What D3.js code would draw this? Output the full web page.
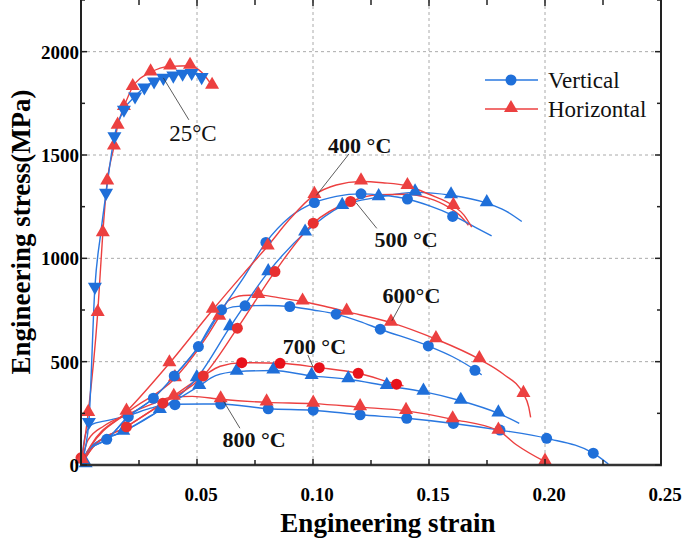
<!DOCTYPE html>
<html><head><meta charset="utf-8">
<script src="https://cdn.jsdelivr.net/npm/d3@7"></script>
<style>body{margin:0;background:#fff}svg{display:block}</style>
</head><body><svg id="c" width="685" height="539"></svg>
<script>
// ---------- data: [strain, stress(MPa)] ----------
const xTicks = [0.05, 0.10, 0.15, 0.20, 0.25];
const xTickLabels = ["0.05", "0.10", "0.15", "0.20", "0.25"];
const yTicks = [0, 500, 1000, 1500, 2000];
const yTickLabels = ["0", "500", "1000", "1500", "2000"];

// 25 °C
const v25Line = [[0,0],[0.002,90],[0.0034,208],[0.006,862],[0.0085,1120],[0.0108,1317],[0.0144,1590],[0.0185,1719],[0.0233,1783],[0.0273,1827],[0.0315,1856],[0.0355,1873],[0.0398,1884],[0.0438,1893],[0.0477,1897],[0.052,1877]];
const v25Marks = [[0.0034,208],[0.006,862],[0.0108,1317],[0.0144,1590],[0.0185,1719],[0.0233,1783],[0.0273,1827],[0.0315,1856],[0.0355,1873],[0.0398,1884],[0.0438,1893],[0.0477,1897],[0.052,1877]];
const h25Line = [[0,0],[0.0031,252],[0.0072,736],[0.0094,1122],[0.0113,1372],[0.0142,1541],[0.0158,1642],[0.0185,1732],[0.0223,1829],[0.03,1900],[0.0384,1929],[0.047,1932],[0.052,1900],[0.0565,1835]];
const h25Marks = [[0.0004,24],[0.0031,252],[0.0072,736],[0.0094,1122],[0.0113,1372],[0.0142,1541],[0.0158,1642],[0.0185,1732],[0.0223,1829],[0.03,1900],[0.0384,1929],[0.047,1932],[0.0565,1835]];

// 400 °C
const v400Line = [[0,0],[0.003,70],[0.0111,124],[0.0204,234],[0.0312,323],[0.0402,431],[0.0506,573],[0.0606,751],[0.07,905],[0.0797,1077],[0.09,1200],[0.1006,1270],[0.11,1300],[0.1207,1312],[0.13,1305],[0.1407,1287],[0.15,1255],[0.1605,1207],[0.17,1150],[0.177,1109]];
const v400Marks = [[0.0111,124],[0.0204,234],[0.0312,323],[0.0402,431],[0.0506,573],[0.0606,751],[0.0797,1077],[0.1006,1270],[0.1207,1312],[0.1407,1287],[0.1602,1203]];
const h400Line = [[0,0],[0.004,90],[0.0196,258],[0.0381,492],[0.0568,751],[0.07,925],[0.0805,1060],[0.09,1190],[0.1006,1307],[0.11,1355],[0.1207,1372],[0.13,1366],[0.1407,1350],[0.15,1310],[0.1605,1254],[0.165,1210],[0.1684,1151]];
const h400Marks = [[0.0196,258],[0.0381,492],[0.0568,751],[0.0805,1057],[0.1006,1307],[0.1207,1372],[0.1407,1350],[0.1605,1254]];

// 500 °C
const v500Line = [[0,0],[0.005,95],[0.0182,161],[0.034,266],[0.0499,420],[0.0642,667],[0.0807,933],[0.0966,1125],[0.1126,1254],[0.1283,1296],[0.144,1319],[0.1595,1305],[0.1749,1267],[0.183,1230],[0.19,1178]];
const v500Marks = [[0.002,4],[0.0182,161],[0.034,266],[0.0499,420],[0.0642,667],[0.0807,933],[0.0966,1125],[0.1126,1254],[0.1283,1296],[0.144,1319],[0.1595,1305],[0.1749,1267]];
const h500Line = [[0,0],[0.005,85],[0.0196,185],[0.0353,299],[0.0527,431],[0.0674,662],[0.0836,936],[0.1001,1170],[0.1162,1275],[0.128,1308],[0.14,1310],[0.15,1290],[0.158,1250],[0.164,1200],[0.167,1160]];
const h500Marks = [[0,35],[0.0196,185],[0.0353,299],[0.0527,431],[0.0674,662],[0.0836,936],[0.1001,1170],[0.1162,1275]];

// 600 °C
const v600Line = [[0,0],[0.003,70],[0.0111,124],[0.0204,234],[0.0312,323],[0.0402,431],[0.05,562],[0.0585,718],[0.0655,765],[0.0707,770],[0.08,772],[0.09,767],[0.1,750],[0.11,730],[0.12,695],[0.129,657],[0.1497,576],[0.16,525],[0.1698,460],[0.1727,436]];
const v600Marks = [[0.0707,770],[0.09,767],[0.11,730],[0.129,657],[0.1497,576],[0.1698,458]];
const h600Line = [[0,0],[0.004,85],[0.0196,250],[0.0405,420],[0.0596,718],[0.0635,795],[0.07,820],[0.0764,823],[0.085,810],[0.0955,791],[0.105,768],[0.1145,742],[0.1336,689],[0.153,609],[0.1717,512],[0.182,440],[0.1907,344],[0.193,280],[0.1938,231]];
const h600Marks = [[0.0005,22],[0.0405,420],[0.0596,718],[0.0764,823],[0.0955,791],[0.1145,742],[0.1336,689],[0.153,609],[0.1717,512],[0.1907,344]];

// 700 °C
const h700Line = [[0,0],[0.005,85],[0.0196,185],[0.0353,299],[0.0527,431],[0.06,478],[0.0693,495],[0.0858,492],[0.1027,471],[0.1195,444],[0.136,391],[0.139,383]];
const h700Marks = [[0.0693,495],[0.0858,492],[0.1027,471],[0.1195,444],[0.136,391]];
const v700Line = [[0,0],[0.005,95],[0.0182,161],[0.034,266],[0.051,383],[0.058,432],[0.0671,452],[0.0829,457],[0.0994,431],[0.1152,415],[0.1318,383],[0.1476,355],[0.1637,311],[0.1799,250],[0.1889,202]];
const v700Marks = [[0.051,383],[0.0671,452],[0.0829,457],[0.0994,431],[0.1152,415],[0.1318,383],[0.1476,355],[0.1637,311],[0.1799,250]];

// 800 °C
const h800Line = [[0,0],[0.003,120],[0.01,190],[0.02,245],[0.03,292],[0.04,330],[0.048,332],[0.0602,318],[0.08,303],[0.1001,297],[0.1203,280],[0.1401,262],[0.1602,221],[0.1799,166],[0.1878,97],[0.2,16]];
const h800Marks = [[0.04,330],[0.0602,318],[0.08,303],[0.1001,297],[0.1203,280],[0.1401,262],[0.1602,221],[0.1799,166],[0.2,16]];
const v800Line = [[0,0],[0.002,150],[0.005,198],[0.01,212],[0.02,238],[0.03,275],[0.036,292],[0.0405,294],[0.0602,295],[0.0807,272],[0.1001,265],[0.1203,243],[0.1404,226],[0.1605,201],[0.1806,169],[0.2007,129],[0.2208,57],[0.2273,5]];
const v800Marks = [[0.0405,292],[0.0602,295],[0.0807,272],[0.1001,265],[0.1203,243],[0.1404,226],[0.1605,201],[0.1806,169],[0.2007,129],[0.2208,57]];

const legendNames = ["Vertical", "Horizontal"];
const tempLabels = [
  {text:"25°C", x:0.038, y:1570, lx1:0.0355, ly1:1873, bold:false},
  {text:"400 °C", x:0.1065, y:1510, lx1:0.1015, ly1:1300, bold:true},
  {text:"500 °C", x:0.1265, y:1055, lx1:0.1185, ly1:1270, bold:true},
  {text:"600°C", x:0.130, y:785, lx1:0.134, ly1:690, bold:true},
  {text:"700 °C", x:0.087, y:535, lx1:0.1005, ly1:475, bold:true},
  {text:"800 °C", x:0.061, y:85, lx1:0.0615, ly1:312, bold:true}
];

// ---------- drawing ----------
const BLUE = "#1f6fd9", BLUEL = "#2a78e0", RED = "#ec4040", REDC = "#e8121b";
const svg = d3.select("#c");
const x = d3.scaleLinear().domain([0, 0.25]).range([81, 661]);
const y = d3.scaleLinear().domain([0, 2250]).range([465, 0]);
const serif = "'Liberation Serif','Times New Roman',serif";

// grid
const g = svg.append("g");
g.selectAll(".gx").data(xTicks.slice(0, 4)).join("line")
  .attr("x1", d => x(d)).attr("x2", d => x(d)).attr("y1", y(0)).attr("y2", -1)
  .attr("stroke", "#aaa").attr("stroke-width", 1).attr("stroke-dasharray", "3,3");
g.selectAll(".gy").data(yTicks.slice(1)).join("line")
  .attr("x1", x(0)).attr("x2", x(0.25)).attr("y1", d => y(d)).attr("y2", d => y(d))
  .attr("stroke", "#aaa").attr("stroke-width", 1).attr("stroke-dasharray", "3,3");

// series
const line = d3.line().x(d => x(d[0])).y(d => y(d[1])).curve(d3.curveMonotoneX);
const series = [
  {l: v800Line, m: v800Marks, c: BLUEL, mc: BLUE, s: "circle"},
  {l: h800Line, m: h800Marks, c: RED, mc: RED, s: "tri"},
  {l: v700Line, m: v700Marks, c: BLUEL, mc: BLUE, s: "tri"},
  {l: h700Line, m: h700Marks, c: RED, mc: REDC, s: "circle"},
  {l: v600Line, m: v600Marks, c: BLUEL, mc: BLUE, s: "circle"},
  {l: h600Line, m: h600Marks, c: RED, mc: RED, s: "tri"},
  {l: v500Line, m: v500Marks, c: BLUEL, mc: BLUE, s: "tri"},
  {l: h500Line, m: h500Marks, c: RED, mc: "#e83030", s: "circle"},
  {l: v400Line, m: v400Marks, c: BLUEL, mc: BLUE, s: "circle"},
  {l: h400Line, m: h400Marks, c: RED, mc: RED, s: "tri"},
  {l: h25Line, m: h25Marks, c: RED, mc: RED, s: "tri"},
  {l: v25Line, m: v25Marks, c: BLUEL, mc: BLUE, s: "dtri"}
];
const triPath = d3.symbol().type(d3.symbolTriangle).size(85)();
const cirPath = d3.symbol().type(d3.symbolCircle).size(95)();
function drawMark(sel, s, color) {
  sel.append("path").attr("d", s === "circle" ? cirPath : triPath)
    .attr("transform", s === "dtri" ? "rotate(180)" : (s === "tri" ? "translate(0,-1)" : null))
    .attr("fill", color);
}
series.forEach(se => {
  svg.append("path").datum(se.l).attr("d", line).attr("fill", "none")
    .attr("stroke", se.c).attr("stroke-width", 1.4);
});
series.forEach(se => {
  se.m.forEach(p => {
    const gm = svg.append("g").attr("transform", `translate(${x(p[0])},${y(p[1])})`);
    drawMark(gm, se.s, se.mc);
  });
});

// frame
svg.append("line").attr("x1", x(0)).attr("x2", x(0)).attr("y1", -1).attr("y2", y(0)).attr("stroke", "#222").attr("stroke-width", 2);
svg.append("line").attr("x1", x(0.25)).attr("x2", x(0.25)).attr("y1", -1).attr("y2", y(0)).attr("stroke", "#222").attr("stroke-width", 2);
svg.append("line").attr("x1", x(0) - 1).attr("x2", x(0.25) + 1).attr("y1", y(0)).attr("y2", y(0)).attr("stroke", "#333").attr("stroke-width", 2.5);

// ticks (inward)
const xMinor = d3.range(0, 0.2501, 0.025);
const yMinor = d3.range(0, 2251, 250);
xMinor.forEach((t, i) => {
  const len = i % 2 === 0 ? 6 : 5;
  svg.append("line").attr("x1", x(t)).attr("x2", x(t)).attr("y1", y(0)).attr("y2", y(0) - len).attr("stroke", "#222").attr("stroke-width", 1.5);
  svg.append("line").attr("x1", x(t)).attr("x2", x(t)).attr("y1", 0).attr("y2", len).attr("stroke", "#222").attr("stroke-width", 1.5);
});
yMinor.forEach((t, i) => {
  const len = i % 2 === 0 ? 6 : 4;
  svg.append("line").attr("x1", x(0)).attr("x2", x(0) + len).attr("y1", y(t)).attr("y2", y(t)).attr("stroke", "#222").attr("stroke-width", 1.5);
  svg.append("line").attr("x1", x(0.25)).attr("x2", x(0.25) - len).attr("y1", y(t)).attr("y2", y(t)).attr("stroke", "#222").attr("stroke-width", 1.5);
});

// tick labels
svg.selectAll(".xl").data(xTicks).join("text")
  .attr("x", d => x(d) + 4).attr("y", 501).attr("text-anchor", "middle")
  .attr("font-family", serif).attr("font-weight", "bold").attr("font-size", 19)
  .text((d, i) => xTickLabels[i]);
svg.selectAll(".yl").data(yTicks).join("text")
  .attr("x", 79).attr("y", d => y(d) + 7).attr("text-anchor", "end")
  .attr("font-family", serif).attr("font-weight", "bold").attr("font-size", 19)
  .text((d, i) => yTickLabels[i]);

// axis titles
svg.append("text").attr("x", 388).attr("y", 532).attr("text-anchor", "middle")
  .attr("font-family", serif).attr("font-weight", "bold").attr("font-size", 27)
  .text("Engineering strain");
svg.append("text").attr("transform", "translate(30,232) rotate(-90)").attr("text-anchor", "middle")
  .attr("font-family", serif).attr("font-weight", "bold").attr("font-size", 27)
  .text("Engineering stress(MPa)");

// temperature labels with leaders
tempLabels.forEach(t => {
  const tx = svg.append("text").attr("x", x(t.x)).attr("y", y(t.y))
    .attr("font-family", serif).attr("font-weight", t.bold ? "bold" : "normal")
    .attr("font-size", t.bold ? 22 : 23).attr("fill", "#111").text(t.text);
});
const leaders = [
  [[0.0355,1873],[0.0465,1670]],
  [[0.1155,1505],[0.1015,1305]],
  [[0.1185,1270],[0.1275,1145]],
  [[0.1385,790],[0.1340,698]],
  [[0.0978,532],[0.1000,475]],
  [[0.0685,178],[0.0615,308]]
];
leaders.forEach(ld => {
  svg.append("line").attr("x1", x(ld[0][0])).attr("y1", y(ld[0][1])).attr("x2", x(ld[1][0])).attr("y2", y(ld[1][1]))
    .attr("stroke", "#333").attr("stroke-width", 0.8);
});

// legend
const leg = svg.append("g");
[[80, BLUE, BLUEL, "circle"], [109, RED, RED, "tri"]].forEach((r, i) => {
  leg.append("line").attr("x1", 485).attr("x2", 538).attr("y1", r[0]).attr("y2", r[0]).attr("stroke", r[2]).attr("stroke-width", 1.6);
  const gm = leg.append("g").attr("transform", `translate(511,${r[0]})`);
  drawMark(gm, r[3], r[1]);
  leg.append("text").attr("x", 548).attr("y", r[0] + 8).attr("font-family", serif).attr("font-size", 23).attr("fill", "#111").text(legendNames[i]);
});
</script></body></html>
